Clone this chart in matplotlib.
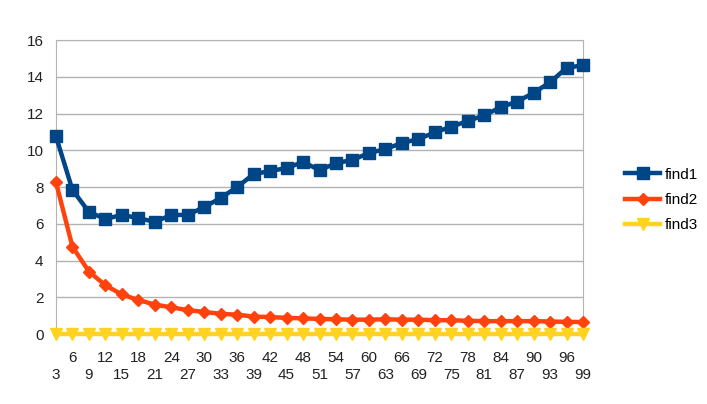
import matplotlib.pyplot as plt

plt.rcParams['font.family'] = ['Liberation Sans', 'DejaVu Sans']

# x values 3..99, step 3
x = list(range(3, 100, 3))

find1 = [10.75, 7.84, 6.64, 6.26, 6.48, 6.31, 6.10, 6.48, 6.48, 6.91, 7.40,
         8.00, 8.70, 8.87, 9.03, 9.36, 8.92, 9.29, 9.48, 9.84, 10.07, 10.39,
         10.61, 10.97, 11.28, 11.59, 11.90, 12.34, 12.65, 13.12, 13.70, 14.48, 14.63]
find2 = [8.25, 4.75, 3.40, 2.65, 2.15, 1.85, 1.60, 1.45, 1.30, 1.20, 1.10,
         1.05, 0.95, 0.92, 0.88, 0.85, 0.82, 0.80, 0.78, 0.78, 0.80, 0.78,
         0.78, 0.75, 0.75, 0.72, 0.70, 0.70, 0.70, 0.70, 0.68, 0.66, 0.65]
find3 = [0.02] * len(x)

yticks = [0, 2, 4, 6, 8, 10, 12, 14, 16]

fig = plt.figure(figsize=(7.07, 4.04), dpi=100)
ax = fig.add_axes([56 / 707, 70 / 404, 527 / 707, 294 / 404])

l1, = ax.plot(x, find1, color='#004586', lw=3.2, marker='s', ms=9, clip_on=False, zorder=3)
l2, = ax.plot(x, find2, color='#ff420e', lw=3.2, marker='D', ms=6.5, clip_on=False, zorder=4)
l3, = ax.plot(x, find3, color='#ffd320', lw=3.2, marker='v', ms=9, clip_on=False, zorder=5)

ax.set_xlim(3, 99)
ax.set_ylim(0, 16)
ax.set_yticks(yticks)
ax.yaxis.grid(True, color='#b3b3b3', lw=1)
ax.set_axisbelow(True)
for s in ax.spines.values():
    s.set_color('#b3b3b3')

# two-row category labels
ax.set_xticks(x[::2])
ax.set_xticklabels([str(v) for v in x[::2]])
ax.set_xticks(x[1::2], minor=True)
ax.set_xticklabels([str(v) for v in x[1::2]], minor=True)
ax.tick_params(axis='x', which='major', length=0, pad=24.5, labelsize=11, labelcolor='#222222')
ax.tick_params(axis='x', which='minor', length=0, pad=12, labelsize=11, labelcolor='#222222')
ax.tick_params(axis='y', length=0, pad=9, labelsize=11, labelcolor='#222222')

fig.legend([l1, l2, l3], ['find1', 'find2', 'find3'], loc='center left',
           bbox_to_anchor=(619 / 707, 1 - 200 / 404), frameon=False, borderaxespad=0,
           fontsize=11, handlelength=2.3, handletextpad=0.3, labelspacing=0.75)

fig.savefig('out.png', dpi=100)
